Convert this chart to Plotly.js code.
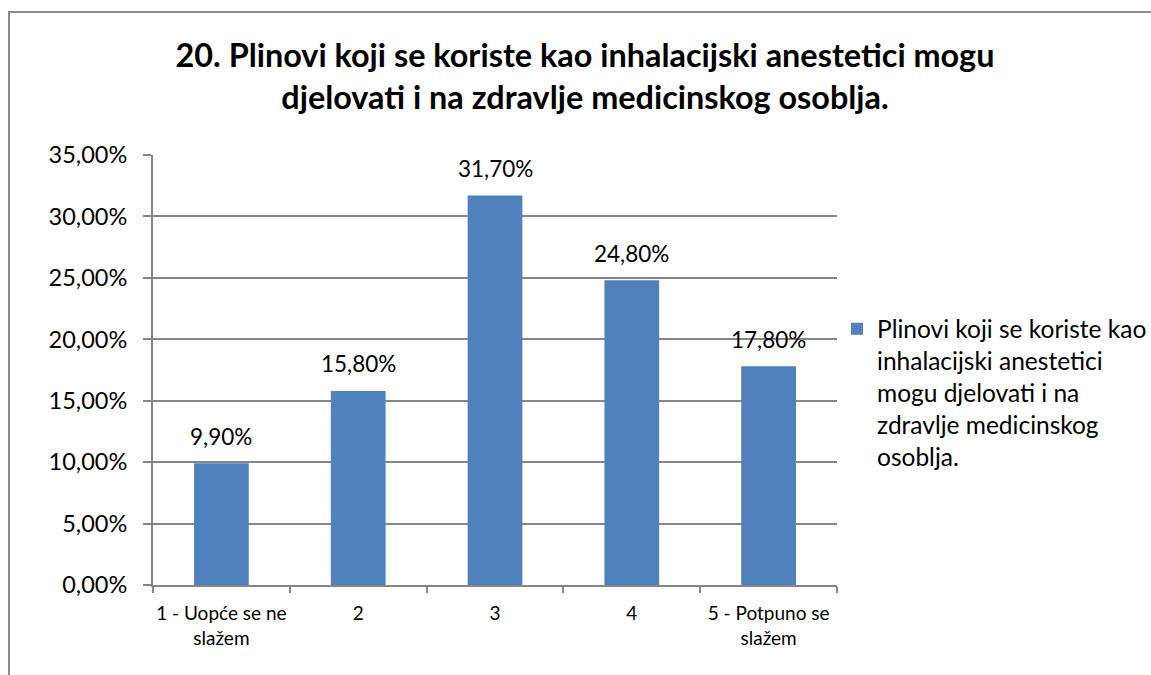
<!DOCTYPE html>
<html>
<head>
<meta charset="utf-8">
<script src="https://cdn.plot.ly/plotly-3.0.1.min.js"></script>
<style>
  html, body { margin: 0; padding: 0; background: #fff; overflow: hidden; }
  #chart { position: absolute; left: 0; top: 0; width: 1151px; height: 675px; }
  #frame { position: absolute; left: 8px; top: 11px; width: 2000px; height: 2000px;
           border-left: 2px solid #8c8c8c; border-top: 2px solid #8c8c8c; pointer-events: none; }
</style>
</head>
<body>
<div id="chart"></div>
<div id="frame"></div>
<script>
const categories = ["1 - Uopće se ne<br>slažem", "2", "3", "4", "5 - Potpuno se<br>slažem"];
const values = [0.099, 0.158, 0.317, 0.248, 0.178];
const seriesName = "Plinovi koji se koriste kao<br>inhalacijski anestetici<br>mogu djelovati i na<br>zdravlje medicinskog<br>osoblja.";
const chartTitle = "20. Plinovi koji se koriste kao inhalacijski anestetici mogu<br>djelovati i na zdravlje medicinskog osoblja.";

const FONT = "Lato, 'Open Sans', sans-serif";
const GRID = "#868686";

function fmt(v) { return (v * 100).toFixed(2).replace('.', ',') + '%'; }

const trace = {
  type: 'bar',
  x: categories,
  y: values,
  name: seriesName,
  marker: { color: '#4F81BD' },
  width: 0.4,
  showlegend: true,
  hoverinfo: 'none'
};

const annotations = values.map((v, i) => ({
  x: i, y: v, xref: 'x', yref: 'y',
  text: fmt(v), showarrow: false,
  xanchor: 'center', yanchor: 'middle', yshift: 27,
  font: { family: FONT, size: 22.5, color: '#000' }
}));

const layout = {
  width: 1151, height: 675,
  margin: { l: 153, r: 314, t: 155, b: 90, autoexpand: false },
  paper_bgcolor: '#fff', plot_bgcolor: '#fff',
  separators: ',.',
  font: { family: FONT, color: '#000' },
  title: {
    text: chartTitle,
    font: { family: FONT, size: 32.4, color: '#000', weight: 'bold' },
    xref: 'container', x: 585 / 1151, xanchor: 'center',
    yref: 'container', y: 1 - 67 / 675, yanchor: 'top'
  },
  xaxis: {
    type: 'category',
    showline: true, linecolor: GRID, linewidth: 2,
    ticks: 'outside', tickson: 'boundaries', ticklen: 6, tickcolor: GRID, tickwidth: 2,
    showgrid: false, zeroline: false, tickangle: 0,
    tickfont: { family: FONT, size: 19, color: '#000' },
    ticklabelstandoff: 10
  },
  yaxis: {
    range: [0, 0.35], dtick: 0.05, tick0: 0, tickformat: '.2%',
    showline: true, linecolor: GRID, linewidth: 2,
    ticks: 'outside', ticklen: 8, tickcolor: GRID, tickwidth: 2,
    showgrid: true, gridcolor: GRID, gridwidth: 2, zeroline: false,
    tickfont: { family: FONT, size: 23.5, color: '#000' },
    ticklabelstandoff: 11
  },
  legend: {
    x: 1.0, xanchor: 'left', y: 0.648, yanchor: 'top',
    valign: 'top', bgcolor: 'rgba(0,0,0,0)',
    font: { family: FONT, size: 24.5, color: '#000' }
  },
  annotations: annotations,
  bargap: 0.6
};

Plotly.newPlot('chart', [trace], layout, { displayModeBar: false, staticPlot: true });
</script>
</body>
</html>
